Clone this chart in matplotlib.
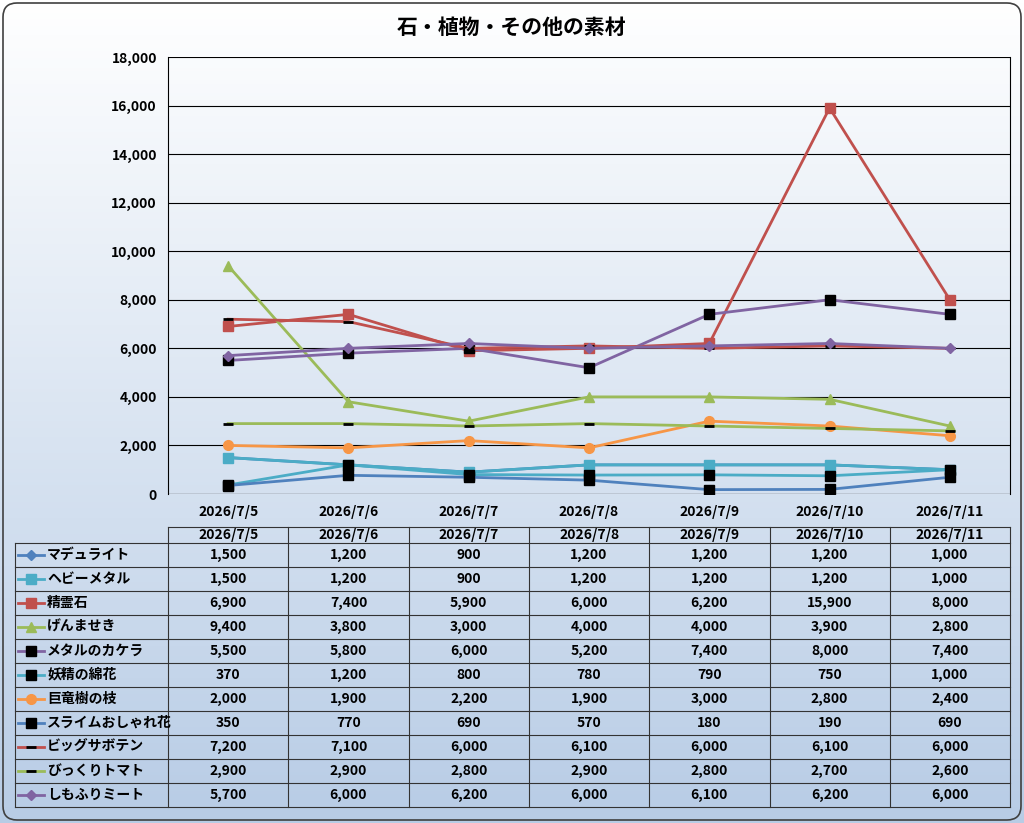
import matplotlib.pyplot as plt
from matplotlib.patches import FancyBboxPatch
import numpy as np

plt.rcParams['font.family'] = ['Noto Sans CJK JP', 'DejaVu Sans']
plt.rcParams['font.weight'] = 'bold'

dates = ['2026/7/5', '2026/7/6', '2026/7/7', '2026/7/8', '2026/7/9', '2026/7/10', '2026/7/11']
names = ['マデュライト', 'ヘビーメタル', '精霊石', 'げんませき', 'メタルのカケラ', '妖精の綿花',
         '巨竜樹の枝', 'スライムおしゃれ花', 'ビッグサボテン', 'びっくりトマト', 'しもふりミート']
values = [
    [1500, 1200, 900, 1200, 1200, 1200, 1000],
    [1500, 1200, 900, 1200, 1200, 1200, 1000],
    [6900, 7400, 5900, 6000, 6200, 15900, 8000],
    [9400, 3800, 3000, 4000, 4000, 3900, 2800],
    [5500, 5800, 6000, 5200, 7400, 8000, 7400],
    [370, 1200, 800, 780, 790, 750, 1000],
    [2000, 1900, 2200, 1900, 3000, 2800, 2400],
    [350, 770, 690, 570, 180, 190, 690],
    [7200, 7100, 6000, 6100, 6000, 6100, 6000],
    [2900, 2900, 2800, 2900, 2800, 2700, 2600],
    [5700, 6000, 6200, 6000, 6100, 6200, 6000],
]
# (line colour, marker, marker face colour, marker size)
styles = [
    ('#4F81BD', 'D', '#4F81BD', 5),
    ('#4BACC6', 's', '#4BACC6', 7),
    ('#C0504D', 's', '#C0504D', 7),
    ('#9BBB59', '^', '#9BBB59', 7),
    ('#8064A2', 's', 'black', 7),
    ('#4BACC6', 's', 'black', 7),
    ('#F79646', 'o', '#F79646', 7),
    ('#4F81BD', 's', 'black', 7),
    ('#C0504D', '_', 'black', 7),
    ('#9BBB59', '_', 'black', 7),
    ('#8064A2', 'D', '#8064A2', 5),
]

W, H = 1024, 823
fig = plt.figure(figsize=(W / 100, H / 100), dpi=100)

# background gradient
bg = fig.add_axes([0, 0, 1, 1])
grad = np.linspace(0, 1, 256).reshape(-1, 1)
top = np.array([1.0, 1.0, 1.0])
bot = np.array([0.72, 0.80, 0.90])
img = top * (1 - grad[:, :, None]) + bot * grad[:, :, None]
bg.imshow(img, aspect='auto', extent=[0, W, H, 0])
bg.add_patch(FancyBboxPatch((3, 3), W - 6, H - 6, boxstyle='round,pad=0,rounding_size=14',
                            fill=False, ec='#404040', lw=1.2))
bg.set_xlim(0, W)
bg.set_ylim(H, 0)
bg.axis('off')
bg.text(W / 2, 27, '石・植物・その他の素材', ha='center', va='center', fontsize=15, fontweight='bold')

def fx(px):
    return px / W

def fy(py):
    return 1 - py / H

# main plot
x0, x1, y0, y1 = 168, 1010, 57, 494
ax = fig.add_axes([fx(x0), fy(y1), fx(x1 - x0), (y1 - y0) / H])
ax.patch.set_alpha(0)
xs = np.arange(len(dates))
for vals, (c, m, mf, ms) in zip(values, styles):
    mew = 2 if m == '_' else 1
    ax.plot(xs, vals, color=c, lw=2, marker=m, mfc=mf, mec=mf if m != '_' else 'black',
            ms=ms, mew=mew, zorder=3)
ax.set_xlim(-0.5, len(dates) - 0.5)
ax.set_ylim(0, 18000)
ax.set_yticks(range(0, 18001, 2000))
ax.set_yticklabels([f'{v:,}' for v in range(0, 18001, 2000)], fontsize=10)
ax.set_xticks(xs)
ax.set_xticklabels(dates, fontsize=10)
ax.tick_params(length=0, pad=8)
ax.yaxis.grid(True, color='black', lw=0.8)
for s in ['top', 'bottom']:
    ax.spines[s].set_visible(False)
ax.spines['left'].set_color('black')
ax.spines['right'].set_color('black')
ax.axhline(0, color='black', lw=0.8)

# data table
t = fig.add_axes([0, 0, 1, 1])
t.set_xlim(0, W)
t.set_ylim(H, 0)
t.axis('off')
lx, cx0, cw = 15, 168, 120.3
hy, ry, rh = 527, 543, 24
ncol = len(dates)
ec = '#333333'
tx_end = cx0 + cw * ncol
bottom = ry + rh * len(names)
t.plot([cx0, tx_end], [hy, hy], color=ec, lw=0.8)
for i in range(len(names) + 1):
    t.plot([lx, tx_end], [ry + rh * i] * 2, color=ec, lw=0.8)
t.plot([lx, lx], [ry, bottom], color=ec, lw=0.8)
for j in range(ncol + 1):
    t.plot([cx0 + cw * j] * 2, [hy, bottom], color=ec, lw=0.8)
for j, d in enumerate(dates):
    t.text(cx0 + cw * (j + 0.5), (hy + ry) / 2, d, ha='center', va='center', fontsize=10)
for i, (n, vals, (c, m, mf, ms)) in enumerate(zip(names, values, styles)):
    yc = ry + rh * (i + 0.5)
    mew = 2 if m == '_' else 1
    t.plot([18, 44], [yc, yc], color=c, lw=2)
    t.plot([31], [yc], marker=m, mfc=mf, mec=mf if m != '_' else 'black', ms=ms, mew=mew, color=c)
    t.text(47, yc, n, ha='left', va='center', fontsize=10)
    for j, v in enumerate(vals):
        t.text(cx0 + cw * (j + 0.5), yc, f'{v:,}', ha='center', va='center', fontsize=10)

fig.savefig('out.png', dpi=100)
